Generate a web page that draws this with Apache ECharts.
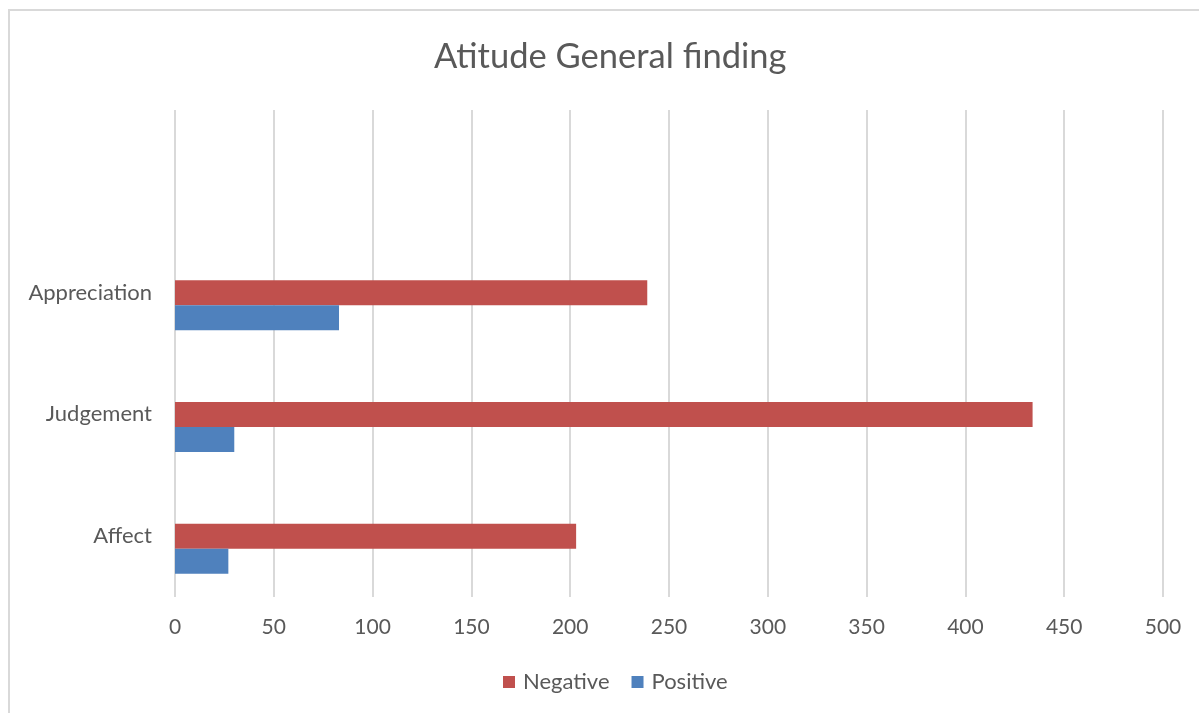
<!DOCTYPE html>
<html>
<head>
<meta charset="utf-8">
<script src="https://cdn.jsdelivr.net/npm/echarts@6/dist/echarts.min.js"></script>
<style>
  html, body { margin: 0; padding: 0; background: #fff; }
  #chart { width: 1199px; height: 713px; }
</style>
</head>
<body>
<div id="chart"></div>
<script>
// Attitude categories, bottom to top; the top slot is left empty
const categories = ['Affect', 'Judgement', 'Appreciation', ''];
const negativeValues = [203, 434, 239, null];
const positiveValues = [27, 30, 83, null];
const spacerValues = [null, null, null, null];
const xTicks = { min: 0, max: 500, interval: 50 };

const textColor = '#595959';
const fontFamily = 'Lato, "Open Sans", sans-serif';

const chart = echarts.init(document.getElementById('chart'));
chart.setOption({
  animation: false,
  backgroundColor: '#ffffff',
  textStyle: { fontFamily: fontFamily, color: textColor },
  title: {
    text: 'Atitude General finding',
    left: 429,
    top: 34,
    textStyle: { fontFamily: fontFamily, fontSize: 34.5, fontWeight: 'normal', color: textColor }
  },
  graphic: [{
    type: 'rect',
    shape: { x: 9, y: 10, width: 1400, height: 900 },
    style: { fill: null, stroke: '#d9d9d9', lineWidth: 2 },
    silent: true
  }],
  legend: {
    data: ['Negative', 'Positive'],
    bottom: 15,
    left: 498,
    itemWidth: 12,
    itemHeight: 12,
    itemGap: 22,
    icon: 'rect',
    textStyle: { fontFamily: fontFamily, fontSize: 22, color: textColor, padding: [0, 0, 0, 3] }
  },
  grid: { left: 175, right: 36, top: 110, bottom: 116, containLabel: false },
  xAxis: {
    type: 'value',
    min: xTicks.min,
    max: xTicks.max,
    interval: xTicks.interval,
    axisLine: { show: false },
    axisTick: { show: false },
    axisLabel: { fontFamily: fontFamily, fontSize: 21, color: textColor, margin: 20 },
    splitLine: { show: true, lineStyle: { color: '#d9d9d9', width: 2 } }
  },
  yAxis: {
    type: 'category',
    data: categories,
    axisLine: { show: false },
    axisTick: { show: false },
    splitLine: { show: false },
    axisLabel: { fontFamily: fontFamily, fontSize: 22, color: textColor, margin: 23 }
  },
  series: [
    {
      name: 'spacer',
      type: 'bar',
      data: spacerValues,
      barWidth: 25,
      barGap: '0%',
      silent: true
    },
    {
      name: 'Negative',
      type: 'bar',
      data: negativeValues,
      barWidth: 25,
      barGap: '0%',
      itemStyle: { color: '#c0504d' }
    },
    {
      name: 'Positive',
      type: 'bar',
      data: positiveValues,
      barWidth: 25,
      barGap: '0%',
      itemStyle: { color: '#4f81bd' }
    }
  ]
});
</script>
</body>
</html>
